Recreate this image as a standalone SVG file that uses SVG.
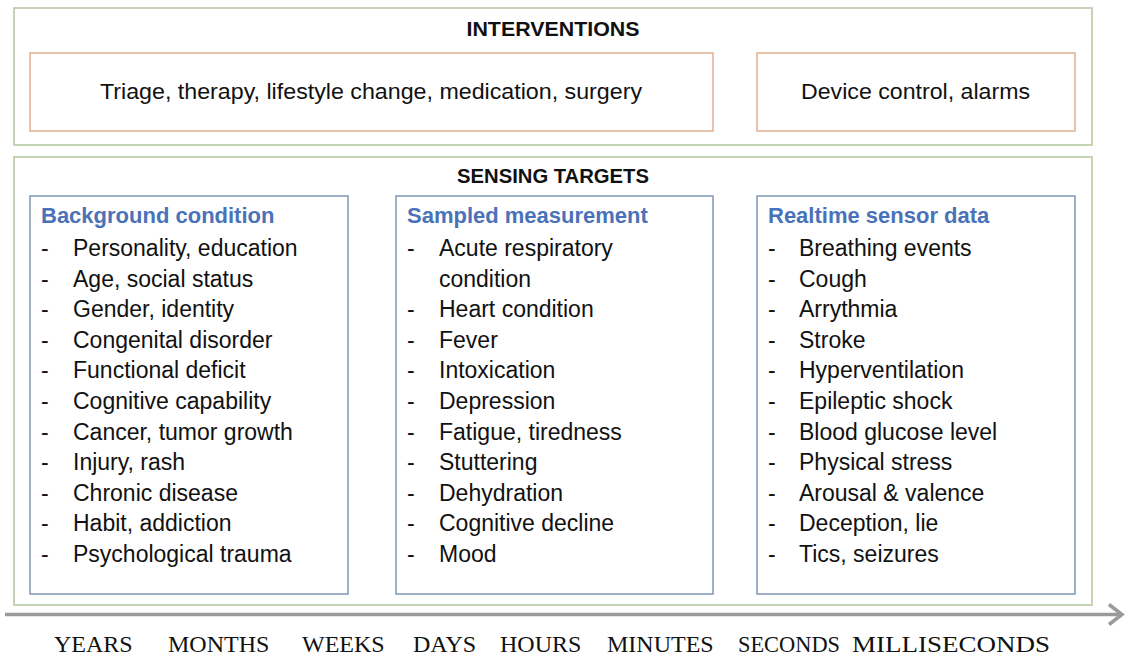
<svg xmlns="http://www.w3.org/2000/svg" width="1126" height="656" viewBox="0 0 1126 656">
<style>
.outer{fill:#fff;stroke:#b2c79a;stroke-width:1.5}
.orange{fill:#fff;stroke:#e3b090;stroke-width:1.5}
.blue{fill:#fff;stroke:#8096b8;stroke-width:1.5}
.title{font-family:"Liberation Sans",Arial,sans-serif;font-weight:bold;font-size:20px;fill:#111;text-anchor:middle}
.big{font-family:"Liberation Sans",Arial,sans-serif;font-size:22px;fill:#111}
.head{font-family:"Liberation Sans",Arial,sans-serif;font-weight:bold;font-size:22px;fill:#4a72b8}
.item{font-family:"Liberation Sans",Arial,sans-serif;font-size:23px;fill:#111}
.time{font-family:"Liberation Serif","Times New Roman",serif;font-size:24px;fill:#111}
</style>
<defs>
<marker id="arr" markerWidth="18" markerHeight="24" refX="15" refY="12" orient="auto" markerUnits="userSpaceOnUse">
<path d="M2,2 L15,12 L2,22" fill="none" stroke="#9a9a9a" stroke-width="3.5"/>
</marker>
</defs>
<rect width="1126" height="656" fill="#fff"/>
<g id="interventions">
<rect class="outer" x="14" y="8" width="1078" height="137"/>
<text class="title" x="553" y="36" textLength="173" lengthAdjust="spacingAndGlyphs">INTERVENTIONS</text>
</g>
<g id="intervention-clinical">
<rect class="orange" x="30" y="53" width="683" height="78"/>
<text class="big" x="100" y="99" textLength="542" lengthAdjust="spacingAndGlyphs">Triage, therapy, lifestyle change, medication, surgery</text>
</g>
<g id="intervention-device">
<rect class="orange" x="757" y="53" width="318" height="78"/>
<text class="big" x="801" y="99" textLength="229" lengthAdjust="spacingAndGlyphs">Device control, alarms</text>
</g>
<g id="sensing-targets">
<rect class="outer" x="14" y="157" width="1078" height="448"/>
<text class="title" x="553" y="183" textLength="192" lengthAdjust="spacingAndGlyphs">SENSING TARGETS</text>
</g>
<g id="background-condition">
<rect class="blue" x="30" y="196" width="318" height="398"/>
<text class="head" x="41" y="223">Background condition</text>
<g class="item">
<text x="41" y="256">-</text><text x="73" y="256">Personality, education</text>
<text x="41" y="286.6">-</text><text x="73" y="286.6">Age, social status</text>
<text x="41" y="317.2">-</text><text x="73" y="317.2">Gender, identity</text>
<text x="41" y="347.8">-</text><text x="73" y="347.8">Congenital disorder</text>
<text x="41" y="378.4">-</text><text x="73" y="378.4">Functional deficit</text>
<text x="41" y="409">-</text><text x="73" y="409">Cognitive capability</text>
<text x="41" y="439.6">-</text><text x="73" y="439.6">Cancer, tumor growth</text>
<text x="41" y="470.2">-</text><text x="73" y="470.2">Injury, rash</text>
<text x="41" y="500.8">-</text><text x="73" y="500.8">Chronic disease</text>
<text x="41" y="531.4">-</text><text x="73" y="531.4">Habit, addiction</text>
<text x="41" y="562">-</text><text x="73" y="562">Psychological trauma</text>
</g>
</g>
<g id="sampled-measurement">
<rect class="blue" x="396" y="196" width="317" height="398"/>
<text class="head" x="407" y="223">Sampled measurement</text>
<g class="item">
<text x="407" y="256">-</text><text x="439" y="256">Acute respiratory</text>
<text x="439" y="286.6">condition</text>
<text x="407" y="317.2">-</text><text x="439" y="317.2">Heart condition</text>
<text x="407" y="347.8">-</text><text x="439" y="347.8">Fever</text>
<text x="407" y="378.4">-</text><text x="439" y="378.4">Intoxication</text>
<text x="407" y="409">-</text><text x="439" y="409">Depression</text>
<text x="407" y="439.6">-</text><text x="439" y="439.6">Fatigue, tiredness</text>
<text x="407" y="470.2">-</text><text x="439" y="470.2">Stuttering</text>
<text x="407" y="500.8">-</text><text x="439" y="500.8">Dehydration</text>
<text x="407" y="531.4">-</text><text x="439" y="531.4">Cognitive decline</text>
<text x="407" y="562">-</text><text x="439" y="562">Mood</text>
</g>
</g>
<g id="realtime-sensor-data">
<rect class="blue" x="757" y="196" width="318" height="398"/>
<text class="head" x="768" y="223">Realtime sensor data</text>
<g class="item">
<text x="768" y="256">-</text><text x="799" y="256">Breathing events</text>
<text x="768" y="286.6">-</text><text x="799" y="286.6">Cough</text>
<text x="768" y="317.2">-</text><text x="799" y="317.2">Arrythmia</text>
<text x="768" y="347.8">-</text><text x="799" y="347.8">Stroke</text>
<text x="768" y="378.4">-</text><text x="799" y="378.4">Hyperventilation</text>
<text x="768" y="409">-</text><text x="799" y="409">Epileptic shock</text>
<text x="768" y="439.6">-</text><text x="799" y="439.6">Blood glucose level</text>
<text x="768" y="470.2">-</text><text x="799" y="470.2">Physical stress</text>
<text x="768" y="500.8">-</text><text x="799" y="500.8">Arousal &amp; valence</text>
<text x="768" y="531.4">-</text><text x="799" y="531.4">Deception, lie</text>
<text x="768" y="562">-</text><text x="799" y="562">Tics, seizures</text>
</g>
</g>
<g id="connectors">
<line x1="5" y1="614.5" x2="1122" y2="614.5" stroke="#9a9a9a" stroke-width="3.5" marker-end="url(#arr)"/>
</g>
<g id="timescale" class="time">
<text x="54" y="652">YEARS</text>
<text x="168" y="652">MONTHS</text>
<text x="302" y="652">WEEKS</text>
<text x="413" y="652">DAYS</text>
<text x="500" y="652">HOURS</text>
<text x="607" y="652">MINUTES</text>
<text x="738" y="652" textLength="102" lengthAdjust="spacingAndGlyphs">SECONDS</text>
<text x="852" y="652" textLength="198" lengthAdjust="spacingAndGlyphs">MILLISECONDS</text>
</g>
</svg>
